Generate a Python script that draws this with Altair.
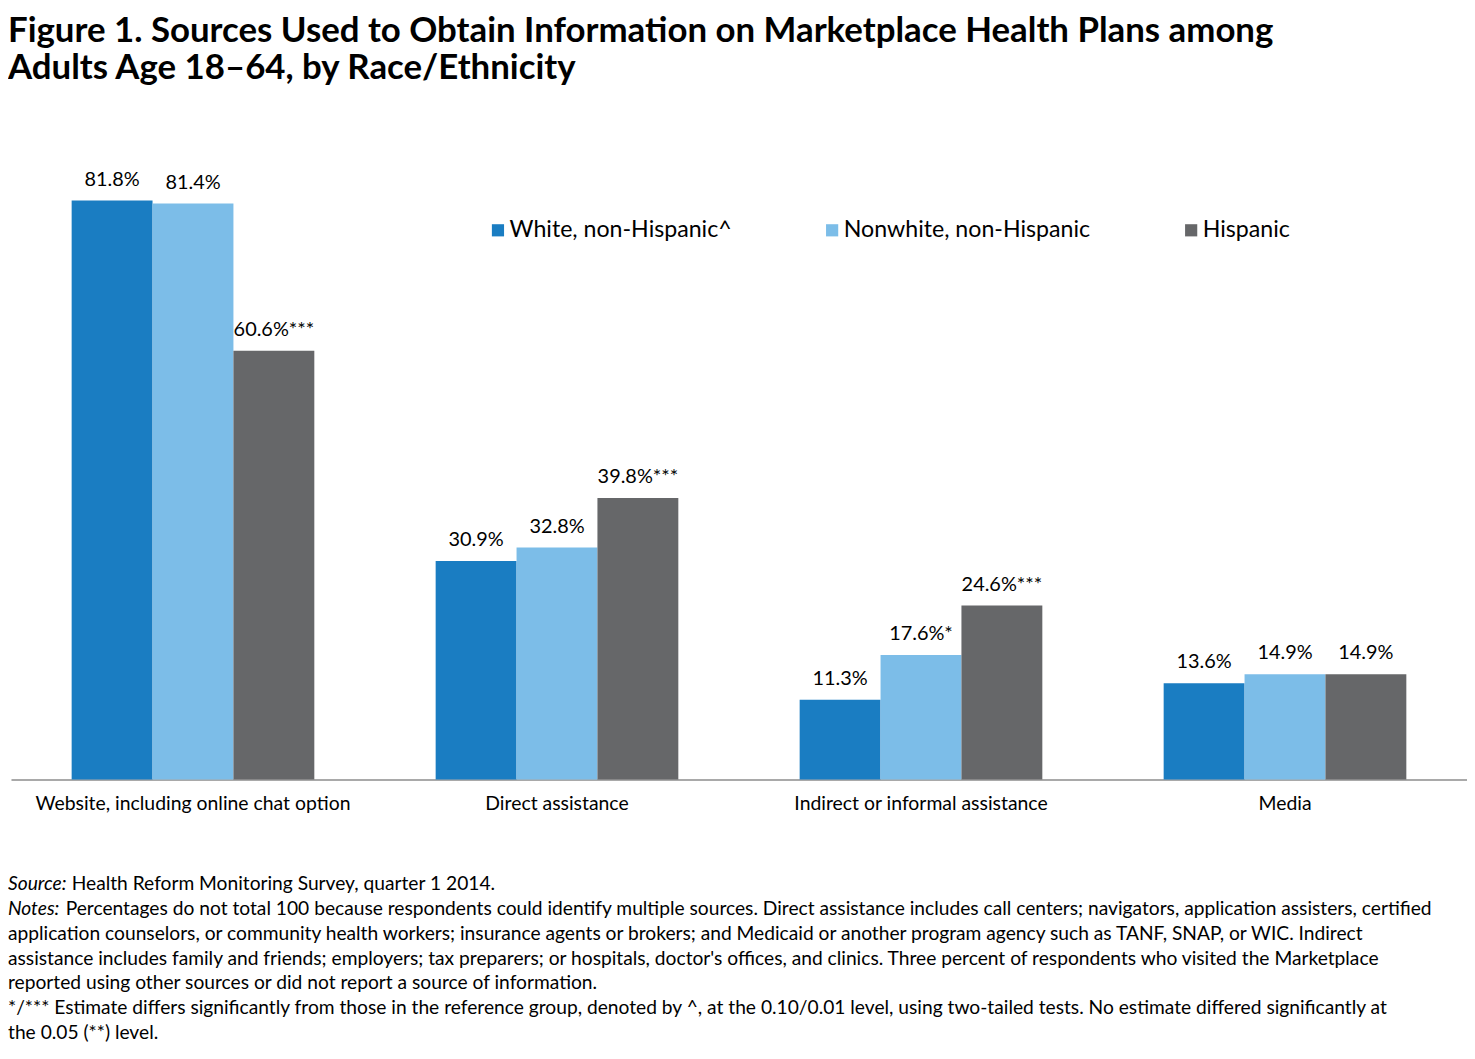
import altair as alt
import pandas as pd

categories = ["Website, including online chat option", "Direct assistance",
              "Indirect or informal assistance", "Media"]
groups = ["White, non-Hispanic^", "Nonwhite, non-Hispanic", "Hispanic"]
white = [81.8, 30.9, 11.3, 13.6]
nonwhite = [81.4, 32.8, 17.6, 14.9]
hispanic = [60.6, 39.8, 24.6, 14.9]
white_sig = ["", "", "", ""]
nonwhite_sig = ["", "", "*", ""]
hispanic_sig = ["***", "***", "***", ""]
colors = ["#1a7dc2", "#7cbde8", "#666769"]

title_lines = ["Figure 1. Sources Used to Obtain Information on Marketplace Health Plans among",
               "Adults Age 18\u201364, by Race/Ethnicity"]
source_label = "Source:"
source_text = "Health Reform Monitoring Survey, quarter 1 2014."
notes_label = "Notes:"
notes_first = "Percentages do not total 100 because respondents could identify multiple sources. Direct assistance includes call centers; navigators, application assisters, certified"
notes_rest = [
    "application counselors, or community health workers; insurance agents or brokers; and Medicaid or another program agency such as TANF, SNAP, or WIC. Indirect",
    "assistance includes family and friends; employers; tax preparers; or hospitals, doctor's offices, and clinics. Three percent of respondents who visited the Marketplace",
    "reported using other sources or did not report a source of information.",
    "*/*** Estimate differs significantly from those in the reference group, denoted by ^, at the 0.10/0.01 level, using two-tailed tests. No estimate differed significantly at",
    "the 0.05 (**) level.",
]

rows = []
for vals, sigs, g in [(white, white_sig, groups[0]), (nonwhite, nonwhite_sig, groups[1]),
                      (hispanic, hispanic_sig, groups[2])]:
    for c, v, s in zip(categories, vals, sigs):
        rows.append({"cat": c, "group": g, "value": v, "label": f"{v:.1f}%{s}"})
df = pd.DataFrame(rows)

FONT = "Lato"
W, H = 1464, 679

xenc = alt.X("cat:N", sort=categories, title=None,
             scale=alt.Scale(paddingInner=1/3, paddingOuter=1/6),
             axis=alt.Axis(labelAngle=0, ticks=False, domainColor="#8c8c8c", domainWidth=1.5,
                           labelFontSize=19.5, labelColor="#000000", labelFont=FONT,
                           labelPadding=15, labelLimit=0))
yenc = alt.Y("value:Q", scale=alt.Scale(domain=[0, 95.4], nice=False), axis=None)
xoff = alt.XOffset("group:N", sort=groups)

base = alt.Chart(df)
bars = base.mark_bar().encode(
    x=xenc, y=yenc, xOffset=xoff,
    color=alt.Color("group:N", sort=groups,
                    scale=alt.Scale(domain=groups, range=colors),
                    legend=alt.Legend(orient="none", legendX=478, legendY=115,
                                      direction="horizontal", title=None,
                                      symbolType="square", symbolSize=150,
                                      symbolStrokeWidth=0, labelFontSize=23.3,
                                      labelFont=FONT, labelColor="#000000",
                                      labelOffset=0, columnPadding=89, padding=0,
                                      labelLimit=0)),
)
labels = base.mark_text(baseline="alphabetic", dy=-15, fontSize=20, font=FONT,
                        color="#000000").encode(
    x=xenc, y=yenc, xOffset=xoff, text="label:N")

layers = [bars, labels]

y0 = 885
lh = 25
y0 -= 101  # relative to plot top
def note(text, x, y, style="normal"):
    return alt.Chart(pd.DataFrame({"t": [text]})).mark_text(
        align="left", baseline="middle", fontSize=19.3, font=FONT,
        fontStyle=style, color="#000000").encode(
        x=alt.value(x), y=alt.value(y), text="t:N")

layers.append(note(source_label, -3, y0, "italic"))
layers.append(note(source_text, 61, y0))
layers.append(note(notes_label, -3, y0 + lh, "italic"))
layers.append(note(notes_first, 55, y0 + lh))
for i, line in enumerate(notes_rest):
    layers.append(note(line, -3, y0 + lh * (i + 2)))

chart = alt.layer(*layers).properties(
    width=W, height=H,
    padding={"left": 0, "top": 3, "right": 0, "bottom": 0},
    title=alt.TitleParams(text=title_lines, anchor="start", frame="group", dx=-3,
                          font=FONT, fontSize=35, fontWeight="bold", lineHeight=38,
                          color="#000000", offset=18),
).configure_view(stroke=None)

chart.save("out.html", embed_options={"renderer": "svg", "actions": False})
